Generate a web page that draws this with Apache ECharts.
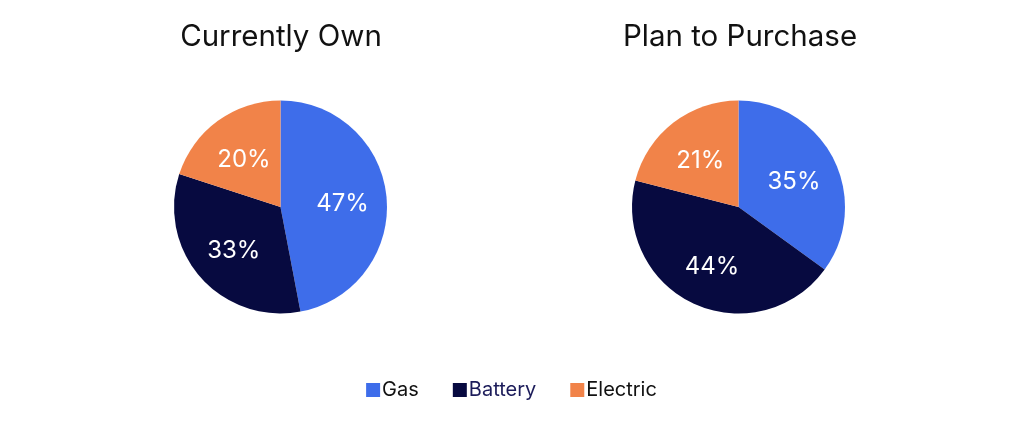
<!DOCTYPE html>
<html>
<head>
<meta charset="utf8">
<script src="https://cdn.jsdelivr.net/npm/echarts@6/dist/echarts.min.js"></script>
<style>
  html, body { margin: 0; padding: 0; background: #fff; }
  #main { width: 1023px; height: 424px; }
</style>
</head>
<body>
<div id="main"></div>
<script type="text/javascript">
    // chart data
    var categories = ['Gas', 'Battery', 'Electric'];
    var colors = ['#3E6DEA', '#070A40', '#F18349'];
    var titles = ['Currently Own', 'Plan to Purchase'];
    var ownValues = [47, 33, 20];
    var planValues = [35, 44, 21];

    // push inside labels a bit outward from the half radius
    var labelPush = 6;

    function toPieData(values) {
        var total = 0;
        for (var k = 0; k < values.length; k++) total += values[k];
        var out = [];
        var acc = 0;
        for (var i = 0; i < categories.length; i++) {
            var mid = (acc + values[i] / 2) / total * Math.PI * 2;
            acc += values[i];
            out.push({
                name: categories[i],
                value: values[i],
                itemStyle: { color: colors[i] },
                label: { offset: [labelPush * Math.sin(mid), -labelPush * Math.cos(mid) + 3] }
            });
        }
        return out;
    }

    function pieSeries(values, cx) {
        return {
            type: 'pie',
            center: [cx, 207],
            radius: 106.5,
            startAngle: 90,
            clockwise: true,
            silent: true,
            animation: false,
            itemStyle: { borderWidth: 0 },
            label: {
                show: true,
                position: 'inside',
                color: '#fff',
                fontFamily: 'Inter',
                fontSize: 24,
                formatter: '{c}%'
            },
            labelLine: { show: false },
            data: toPieData(values)
        };
    }

    var chart = echarts.init(document.getElementById('main'), null, { renderer: 'canvas' });
    var option = {
        backgroundColor: '#fff',
        animation: false,
        title: [
            { text: titles[0], left: 276, top: 17, textAlign: 'center',
              textStyle: { fontFamily: 'Inter', fontSize: 29.5, fontWeight: 'normal', color: '#111' } },
            { text: titles[1], left: 735, top: 17, textAlign: 'center',
              textStyle: { fontFamily: 'Inter', fontSize: 29.5, fontWeight: 'normal', color: '#111' } }
        ],
        legend: {
            bottom: 19,
            left: 'center',
            icon: 'rect',
            itemWidth: 14,
            itemHeight: 14,
            itemGap: 34,
            textStyle: { fontFamily: 'Inter', fontSize: 20, color: '#111', padding: [0, 0, 0, -3] },
            data: [
                { name: categories[0] },
                { name: categories[1], textStyle: { color: '#1C1C5A' } },
                { name: categories[2] }
            ]
        },
        series: [
            pieSeries(ownValues, 280.5),
            pieSeries(planValues, 738.5)
        ]
    };
    chart.setOption(option);
</script>
</body>
</html>
